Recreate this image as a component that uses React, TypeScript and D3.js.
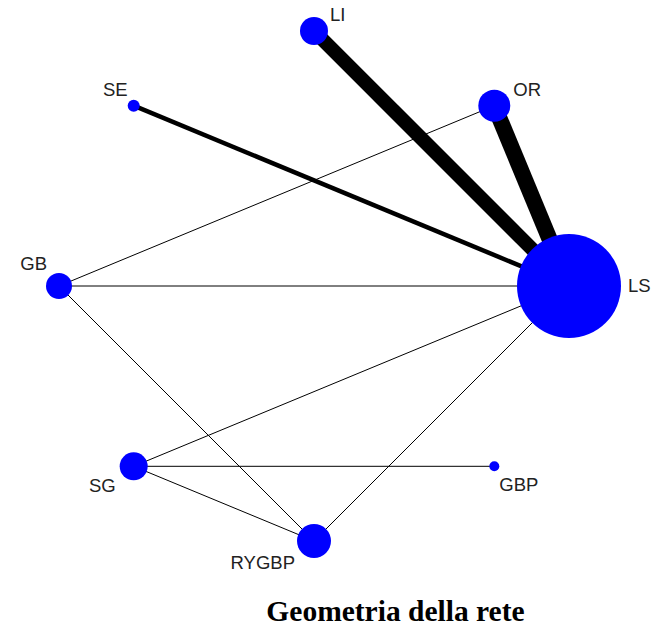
import React from "react";
import * as d3 from "d3";

// Nodes in circular-layout order (counter-clockwise from the right)
const nodeNames = ["LS", "OR", "LI", "SE", "GB", "SG", "RYGBP", "GBP"];
// Node size (proportional to amount of evidence)
const nodeSizes = [52, 16, 14, 6, 13, 14, 17, 5];

// Edges: [from, to, weight]
const edgeFrom = ["LI", "OR", "SE", "OR", "GB", "GB", "SG", "SG", "SG", "RYGBP"];
const edgeTo = ["LS", "LS", "LS", "GB", "LS", "RYGBP", "LS", "GBP", "RYGBP", "LS"];
const edgeWeights = [14, 16, 4.5, 1, 1, 1, 1, 1, 1, 1];

const title = "Geometria della rete";

// label placement (style config)
const LABEL_STYLE: Record<string, { dx: number; dy: number; anchor: string }> = {
  LS: { dx: 59, dy: 6, anchor: "start" },
  OR: { dx: 19, dy: -10, anchor: "start" },
  LI: { dx: 16, dy: -10, anchor: "start" },
  SE: { dx: -6, dy: -10, anchor: "end" },
  GB: { dx: -12, dy: -16, anchor: "end" },
  SG: { dx: -18, dy: 26, anchor: "end" },
  RYGBP: { dx: -19, dy: 28, anchor: "end" },
  GBP: { dx: 5, dy: 25, anchor: "start" },
};

export default function App() {
  const W = 653;
  const H = 626;
  const cx = 314;
  const cy = 286;
  const R = 255;

  const angle = d3
    .scaleLinear()
    .domain([0, nodeNames.length])
    .range([0, 2 * Math.PI]);
  const rScale = d3.scaleLinear().domain([0, 1]).range([0, 1]);
  const wScale = d3.scaleLinear().domain([0, 1]).range([0, 1]);

  const nodes = nodeNames.map((name, i) => {
    const a = angle(i);
    return {
      name,
      x: cx + R * Math.cos(a),
      y: cy - R * Math.sin(a),
      r: rScale(nodeSizes[i]),
    };
  });
  const byName = new Map(nodes.map((n) => [n.name, n]));
  const edges = edgeFrom.map((f, i) => ({
    s: byName.get(f)!,
    t: byName.get(edgeTo[i])!,
    w: wScale(edgeWeights[i]),
  }));

  return (
    <svg
      width={W}
      height={H}
      style={{ position: "absolute", left: 0, top: 0, background: "#fff" }}
    >
      <rect width={W} height={H} fill="#fff" />
      <g>
        {edges.map((e, i) => (
          <line
            key={i}
            x1={e.s.x}
            y1={e.s.y}
            x2={e.t.x}
            y2={e.t.y}
            stroke="#000"
            strokeWidth={e.w}
          />
        ))}
      </g>
      <g>
        {nodes.map((n) => (
          <circle key={n.name} cx={n.x} cy={n.y} r={n.r} fill="#0000ff" />
        ))}
      </g>
      <g
        style={{ fontFamily: "'Liberation Sans', Arial, sans-serif", fontSize: 18.5 }}
        fill="#222"
      >
        {nodes.map((n) => {
          const l = LABEL_STYLE[n.name];
          return (
            <text key={n.name} x={n.x + l.dx} y={n.y + l.dy} textAnchor={l.anchor}>
              {n.name}
            </text>
          );
        })}
      </g>
      <text
        x={395.5}
        y={621}
        textAnchor="middle"
        style={{
          fontFamily: "'Liberation Serif', 'Times New Roman', serif",
          fontWeight: "bold",
          fontSize: 29.5,
        }}
        fill="#000"
      >
        {title}
      </text>
    </svg>
  );
}
